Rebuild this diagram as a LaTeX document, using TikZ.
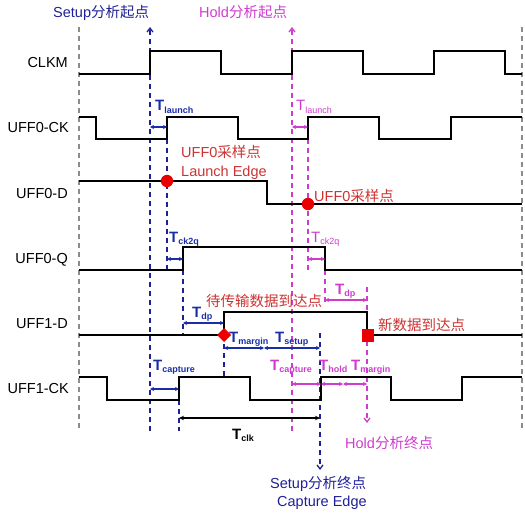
\documentclass[tikz,border=0pt]{standalone}
\usepackage{fontspec}
\setmainfont{Liberation Sans}
\newfontfamily\cjk{Noto Sans CJK SC}
\usetikzlibrary{arrows.meta}
\definecolor{bD}{RGB}{32,32,150}
\definecolor{bT}{RGB}{25,45,165}
\definecolor{mG}{RGB}{205,60,205}
\definecolor{rT}{RGB}{205,50,50}
\definecolor{rM}{RGB}{235,0,0}
\definecolor{gD}{RGB}{140,140,140}
\newcommand{\Tsb}[1]{{\fontsize{15}{15}\selectfont T\raisebox{-2.8pt}{\fontsize{9}{9}\selectfont #1}}}
\tikzset{
  wave/.style={line width=1.6pt, black, line join=miter},
  gdash/.style={line width=1.2pt, gD, dash pattern=on 5pt off 4pt},
  bdash/.style={line width=1.3pt, bD, dash pattern=on 5pt off 4pt},
  mdash/.style={line width=1.3pt, mG, dash pattern=on 5pt off 4pt},
  barr/.style={line width=1.3pt, bT, {Stealth[length=4pt,width=4pt]}-{Stealth[length=4pt,width=4pt]}},
  marr/.style={line width=1.3pt, mG, {Stealth[length=4pt,width=4pt]}-{Stealth[length=4pt,width=4pt]}},
  karr/.style={line width=1.3pt, black, {Stealth[length=5pt,width=4.5pt]}-{Stealth[length=5pt,width=4.5pt]}},
  lbl/.style={anchor=base east, inner sep=0pt, font=\fontsize{14.5}{17}\selectfont},
  txt/.style={anchor=base west, inner sep=0pt, font=\fontsize{14.5}{17}\selectfont},
  tl/.style={anchor=base west, inner sep=0pt},
}
\begin{document}
\begin{tikzpicture}[x=1pt,y=-1pt]
\useasboundingbox (0,0) rectangle (525,516);
% top labels
\node[txt, text=bD] (setupS) at (53,18) {Setup{\cjk 分析起点}};
\node[txt, text=mG] (holdS) at (199,18) {Hold{\cjk 分析起点}};
% signal names
\node[lbl] (nCLKM) at (68,68) {CLKM};
\node[lbl] (nCK0) at (69,133) {UFF0-CK};
\node[lbl] (nD0) at (68,198) {UFF0-D};
\node[lbl] (nQ0) at (68,263) {UFF0-Q};
\node[lbl] (nD1) at (68,328) {UFF1-D};
\node[lbl] (nCK1) at (69,393) {UFF1-CK};
% grey border dashes
\draw[gdash] (79,27) -- (79,431);
\draw[gdash] (522,27) -- (522,431);
% long dashed lines
\draw[bdash, -{Straight Barb[length=4pt,width=6pt]}] (150,431) -- (150,27);
\draw[mdash, -{Straight Barb[length=4pt,width=6pt]}] (292,431) -- (292,27);
\draw[bdash] (167,139) -- (167,270);
\draw[mdash] (308,139) -- (308,270);
\draw[bdash] (183,270) -- (183,335);
\draw[mdash] (325,270) -- (325,302);
\draw[bdash] (224,335) -- (224,376);
\draw[bdash, -{Straight Barb[length=4pt,width=6pt]}] (320,333) -- (320,470);
\draw[mdash, -{Straight Barb[length=4pt,width=6pt]}] (367,287) -- (367,423);
\draw[bdash] (179,400) -- (179,431);
% waveforms
\draw[wave] (79,74) -- (150,74) -- (150,51) -- (221,51) -- (221,74) -- (292,74) -- (292,51) -- (363,51) -- (363,74) -- (434,74) -- (434,51) -- (505,51) -- (505,74) -- (522,74);
\draw[wave] (79,117) -- (96,117) -- (96,139) -- (167,139) -- (167,117) -- (238,117) -- (238,139) -- (308,139) -- (308,117) -- (379,117) -- (379,139) -- (451,139) -- (451,117) -- (522,117);
\draw[wave] (79,181) -- (267,181) -- (267,204) -- (522,204);
\draw[wave] (79,270) -- (183,270) -- (183,247) -- (325,247) -- (325,270) -- (522,270);
\draw[wave] (79,335) -- (224,335) -- (224,312) -- (367,312) -- (367,335) -- (522,335);
\draw[wave] (79,377) -- (107,377) -- (107,400) -- (179,400) -- (179,377) -- (250,377) -- (250,400) -- (321,400) -- (321,377) -- (391,377) -- (391,400) -- (462,400) -- (462,377) -- (522,377);
% markers
\fill[rM] (167,181) circle (6.2);
\fill[rM] (308,204) circle (6.2);
\fill[rM] (224,328) -- (231,335) -- (224,342) -- (217,335) -- cycle;
\fill[rM] (362,329) rectangle (374,342);
% measurement arrows
\draw[barr] (150,127) -- (167,127);
\draw[marr] (292,127) -- (308,127);
\draw[barr] (167,259) -- (183,259);
\draw[marr] (308,259) -- (325,259);
\draw[barr] (183,323) -- (224,323);
\draw[marr] (325,300) -- (367,300);
\draw[barr] (224,348) -- (264,348);
\draw[barr] (264,348) -- (320,348);
\draw[barr] (150,389) -- (179,389);
\draw[marr] (292,384) -- (321,384);
\draw[marr] (321,384) -- (343,384);
\draw[marr] (343,384) -- (367,384);
\draw[karr] (179,418) -- (320,418);
% T labels
\node[tl, text=bT, font=\bfseries] (tl1) at (155,111) {\Tsb{launch}};
\node[tl, text=mG] (tl2) at (296,111) {\Tsb{launch}};
\node[tl, text=bT, font=\bfseries] (tc1) at (169,242) {\Tsb{ck2q}};
\node[tl, text=mG] (tc2) at (311,242) {\Tsb{ck2q}};
\node[tl, text=bT, font=\bfseries] (td1) at (192,317) {\Tsb{dp}};
\node[tl, text=mG, font=\bfseries] (td2) at (335,294) {\Tsb{dp}};
\node[tl, text=bT, font=\bfseries] (tm1) at (229,342) {\Tsb{margin}};
\node[tl, text=bT, font=\bfseries] (ts1) at (275,342) {\Tsb{setup}};
\node[tl, text=bT, font=\bfseries] (tcap1) at (153,370) {\Tsb{capture}};
\node[tl, text=mG, font=\bfseries] (tcap2) at (270,370) {\Tsb{capture}};
\node[tl, text=mG, font=\bfseries] (th2) at (319,370) {\Tsb{hold}};
\node[tl, text=mG, font=\bfseries] (tm2) at (351,370) {\Tsb{margin}};
\node[tl, text=black, font=\bfseries] (tclk) at (232,439) {\Tsb{clk}};
% red texts
\node[txt, text=rT] (s1) at (181,158) {UFF0{\cjk 采样点}};
\node[txt, text=rT] (s2) at (181,176) {Launch Edge};
\node[txt, text=rT] (s3) at (314,201) {UFF0{\cjk 采样点}};
\node[txt, text=rT] (s4) at (206,306) {\cjk 待传输数据到达点};
\node[txt, text=rT] (s5) at (378,330) {\cjk 新数据到达点};
% bottom labels
\node[txt, text=mG] (holdE) at (345,448) {Hold{\cjk 分析终点}};
\node[txt, text=bD] (setupE) at (270,488) {Setup{\cjk 分析终点}};
\node[txt, text=bD] (capE) at (277,506) {Capture Edge};
\end{tikzpicture}
\end{document}
